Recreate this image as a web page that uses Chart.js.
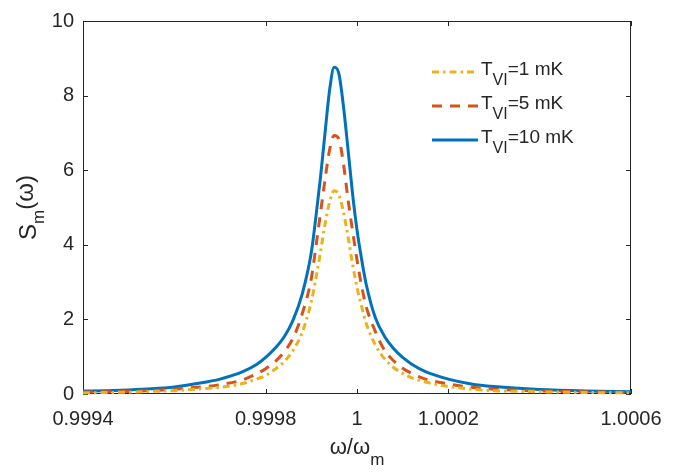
<!DOCTYPE html>
<html><head><meta charset="utf-8">
<script src="https://cdn.jsdelivr.net/npm/chart.js@4/dist/chart.umd.min.js"></script>
<style>html,body{margin:0;padding:0;background:#fff}#wrap{width:685px;height:472px}</style>
</head><body><div id="wrap"><canvas id="c" width="685" height="472"></canvas></div>
<script>
// omega / omega_m
const xValues = [0.9994, 0.99945, 0.9995, 0.99955, 0.9996, 0.99965, 0.9997, 0.99975, 0.99978, 0.9998,
  0.99982, 0.99984, 0.99986, 0.99988, 0.9999, 0.99991, 0.99992, 0.99993, 0.99994, 0.99995,
  0.99996, 0.99997, 0.99998, 0.99999, 1.0, 1.00001, 1.00002, 1.00004, 1.00006, 1.00008,
  1.0001, 1.00012, 1.00015, 1.0002, 1.00025, 1.0003, 1.0004, 1.0005, 1.0006];
// S_m(omega) for T_VI = 1 mK
const s1mK = [0.03, 0.04, 0.05, 0.07, 0.09, 0.13, 0.18, 0.28, 0.40, 0.50,
  0.66, 0.86, 1.17, 1.65, 2.48, 3.10, 3.80, 4.55, 5.15, 5.45,
  5.35, 4.90, 4.25, 3.50, 2.85, 2.35, 1.90, 1.32, 0.95, 0.71,
  0.55, 0.43, 0.32, 0.20, 0.13, 0.09, 0.06, 0.04, 0.03];
// S_m(omega) for T_VI = 5 mK
const s5mK = [0.05, 0.06, 0.07, 0.09, 0.13, 0.18, 0.25, 0.38, 0.54, 0.68,
  0.86, 1.12, 1.50, 2.15, 3.10, 3.95, 4.85, 5.75, 6.55, 6.93,
  6.85, 6.20, 5.25, 4.40, 3.60, 2.90, 2.35, 1.68, 1.18, 0.89,
  0.69, 0.55, 0.40, 0.27, 0.18, 0.13, 0.08, 0.06, 0.04];
// S_m(omega) for T_VI = 10 mK
const s10mK = [0.08, 0.09, 0.11, 0.14, 0.19, 0.28, 0.40, 0.60, 0.79, 0.98,
  1.22, 1.52, 1.98, 2.68, 3.80, 4.75, 5.80, 7.00, 8.15, 8.76,
  8.60, 7.75, 6.60, 5.40, 4.40, 3.62, 2.95, 2.05, 1.55, 1.22,
  0.98, 0.80, 0.60, 0.40, 0.27, 0.20, 0.12, 0.08, 0.06];
const xTicks = [0.9994, 0.9998, 1, 1.0002, 1.0006];
const xTickLabels = ['0.9994', '0.9998', '1', '1.0002', '1.0006'];
const yTicks = [0, 2, 4, 6, 8, 10];
const legendTemps = ['=1 mK', '=5 mK', '=10 mK'];

const FONT = '"Liberation Sans", Arial, Helvetica, sans-serif';
const AX = '#262626';
const colors = ['#EDB120', '#D95319', '#0072BD'];
const dashes = [[7, 4, 2.5, 4], [10, 8], []];
const seriesVals = [s1mK, s5mK, s10mK];

const toPts = arr => xValues.map((x, i) => ({x: x, y: arr[i]}));

const datasets = seriesVals.map((vals, i) => ({
  label: 'T_VI' + legendTemps[i],
  data: toPts(vals),
  borderColor: colors[i],
  borderWidth: 3,
  borderDash: dashes[i],
  pointRadius: 0,
  fill: false,
  cubicInterpolationMode: 'monotone',
  clip: 4
}));

const decor = {
  id: 'decor',
  beforeDatasetsDraw(chart) {
    const {ctx, chartArea: a, scales: {x, y}} = chart;
    ctx.save();
    ctx.strokeStyle = AX;
    ctx.lineWidth = 1;
    ctx.strokeRect(a.left + 0.5, a.top + 0.5, a.right - a.left - 1, a.bottom - a.top - 1);
    ctx.beginPath();
    const tl = 5;
    xTicks.forEach(v => {
      const px = Math.round(x.getPixelForValue(v)) + 0.5;
      ctx.moveTo(px, a.bottom); ctx.lineTo(px, a.bottom - tl);
      ctx.moveTo(px, a.top); ctx.lineTo(px, a.top + tl);
    });
    yTicks.forEach(v => {
      const py = Math.round(y.getPixelForValue(v)) + 0.5;
      ctx.moveTo(a.left, py); ctx.lineTo(a.left + tl, py);
      ctx.moveTo(a.right, py); ctx.lineTo(a.right - tl, py);
    });
    ctx.stroke();
    ctx.restore();
  },
  afterDraw(chart) {
    const {ctx, chartArea: a} = chart;
    ctx.save();
    ctx.fillStyle = AX;
    ctx.textBaseline = 'alphabetic';
    ctx.textAlign = 'left';
    // x axis title: omega/omega_m
    ctx.font = '22px ' + FONT;
    const main = '\u03c9/\u03c9';
    const wMain = ctx.measureText(main).width;
    ctx.font = '17px ' + FONT;
    const wSub = ctx.measureText('m').width;
    const cx = (a.left + a.right) / 2;
    let sx = cx - (wMain + wSub) / 2;
    ctx.font = '22px ' + FONT;
    ctx.fillText(main, sx, 454);
    ctx.font = '17px ' + FONT;
    ctx.fillText('m', sx + wMain, 465);
    // y axis title: S_m(omega)
    ctx.save();
    ctx.translate(36, (a.top + a.bottom) / 2);
    ctx.rotate(-Math.PI / 2);
    ctx.font = '24px ' + FONT;
    const wS = ctx.measureText('S').width;
    const wP = ctx.measureText('(\u03c9)').width;
    ctx.font = '17px ' + FONT;
    const wm = ctx.measureText('m').width;
    let lx = -(wS + wm + wP) / 2;
    ctx.font = '24px ' + FONT;
    ctx.fillText('S', lx, 0);
    ctx.font = '17px ' + FONT;
    ctx.fillText('m', lx + wS, 8);
    ctx.font = '24px ' + FONT;
    ctx.fillText('(\u03c9)', lx + wS + wm, -3);
    ctx.restore();
    // legend
    const rows = [72, 106, 140];
    rows.forEach((ry, i) => {
      ctx.save();
      ctx.strokeStyle = colors[i];
      ctx.lineWidth = 3;
      ctx.setLineDash(dashes[i]);
      ctx.beginPath();
      ctx.moveTo(432, ry); ctx.lineTo(478, ry);
      ctx.stroke();
      ctx.restore();
      ctx.fillStyle = AX;
      ctx.font = '19px ' + FONT;
      ctx.fillText('T', 481, ry + 3);
      const wT = ctx.measureText('T').width;
      ctx.font = '16px ' + FONT;
      ctx.fillText('VI', 481 + wT, ry + 13);
      const wVI = ctx.measureText('VI').width;
      ctx.font = '19px ' + FONT;
      ctx.fillText(legendTemps[i], 481 + wT + wVI, ry + 3);
    });
    ctx.restore();
  }
};

new Chart(document.getElementById('c'), {
  type: 'line',
  data: {datasets: datasets},
  options: {
    responsive: false,
    animation: false,
    devicePixelRatio: 1,
    layout: {padding: {top: 13, right: 54, left: 0, bottom: 0}},
    plugins: {legend: {display: false}, tooltip: {enabled: false}},
    scales: {
      x: {
        type: 'linear', min: 0.9994, max: 1.0006,
        afterBuildTicks: s => { s.ticks = xTicks.map(v => ({value: v})); },
        afterFit: s => { s.height = 78; },
        ticks: {
          callback: (v, i) => xTickLabels[i],
          font: {size: 20, family: FONT}, color: AX, padding: 13,
          maxRotation: 0, autoSkip: false
        },
        grid: {display: false, drawTicks: false},
        border: {display: false}
      },
      y: {
        min: 0, max: 10,
        afterBuildTicks: s => { s.ticks = yTicks.map(v => ({value: v})); },
        afterFit: s => { s.width = 83; },
        ticks: {font: {size: 20, family: FONT}, color: AX, padding: 9},
        grid: {display: false, drawTicks: false},
        border: {display: false}
      }
    }
  },
  plugins: [decor]
});
</script></body></html>
